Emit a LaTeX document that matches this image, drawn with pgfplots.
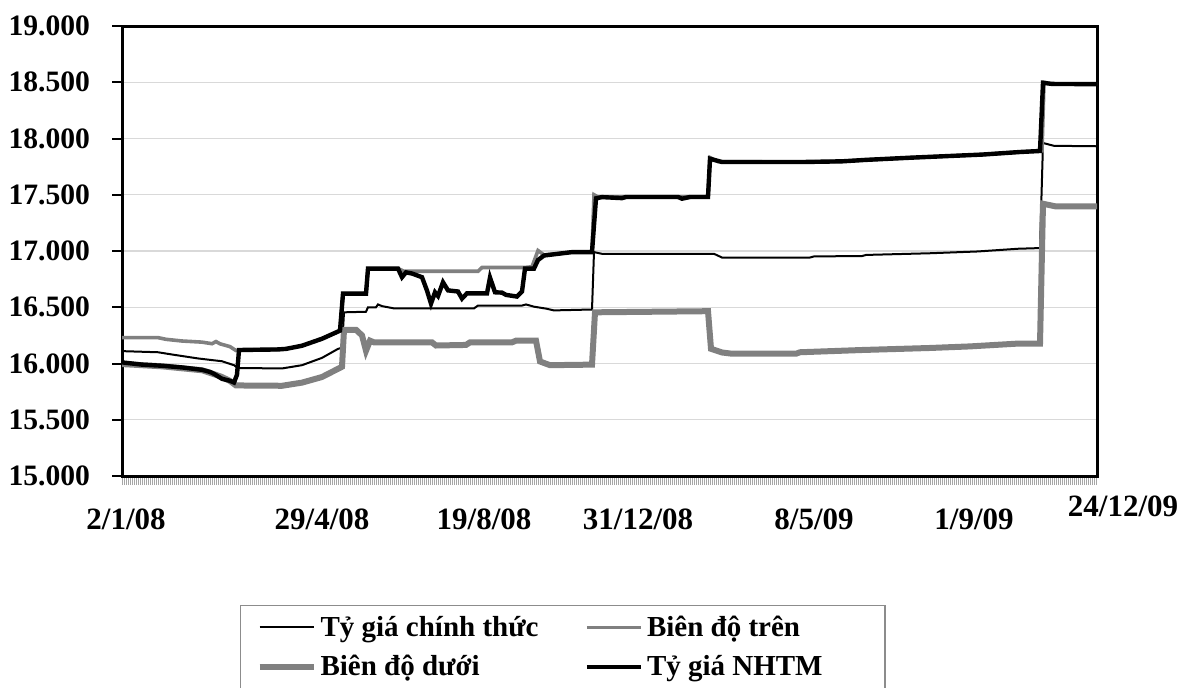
\documentclass[border=0pt]{standalone}
\usepackage{fontspec}
\setmainfont{Liberation Serif}
\usepackage{pgfplots}
\pgfplotsset{compat=1.18}
\usepackage{pgfplotstable}

% x = trading-day position (0 = 2/1/08, 487.5 = 24/12/09)
\pgfplotstableread{
x y
0 16110
18 16100
25 16080
38 16045
50 16020
56 15985
58 15960
80 15956
90 15985
100 16050
108 16130
110 16140
111 16455
122 16460
123 16500
127 16500
128 16525
130 16510
136 16490
176 16490
178 16515
200 16515
202 16525
206 16505
212 16488
216 16472
235 16480
236 16990
240 16975
296 16975
300 16942
344 16942
346 16952
370 16955
372 16965
404 16980
428 16996
448 17020
459 17026
460.5 17960
466 17935
487.5 17931
}\ct

\pgfplotstableread{
x y
0 16230
18 16230
22 16215
30 16200
40 16190
45 16176
47 16195
49 16175
54 16150
57 16115
58.5 16120
78 16125
82 16130
90 16158
100 16220
109 16292
110.5 16621
122 16621
123 16844
138 16844
141 16820
178 16820
180 16853
201 16853
205 16860
208 17004
211 16965
225 16990
235 16990
236 17500
238 17480
293 17480
294 17830
298 17795
340 17791
360 17797
372 17810
395 17830
430 17857
449 17880
460 17890
461 18500
465 18485
487.5 18485
}\tren

\pgfplotstableread{
x y
0 15995
20 15975
40 15940
46 15905
50 15880
54 15845
57 15805
80 15802
90 15830
100 15880
110 15971
111 16300
117 16300
120 16250
122 16114
124 16203
126 16188
155 16188
157 16160
172 16165
174 16188
195 16188
197 16203
207 16203
209 16018
214 15985
235 15990
236.5 16455
293 16465
294.5 16131
300 16098
305 16087
337 16087
339 16100
370 16120
404 16138
424 16152
447 16176
459 16176
460.5 17420
467 17396
487.5 17396
}\duoi

\pgfplotstableread{
x y
0 16010
10 15990
20 15980
30 15965
40 15944
44 15925
46 15908
50 15864
54 15846
56 15831
57.5 15900
58.5 16120
78 16125
82 16130
90 16158
100 16220
109 16292
110.5 16621
122 16621
123 16844
138 16844
140 16767
142 16810
145 16800
150 16767
152.5 16648
154.5 16532
156.5 16633
158 16600
160.5 16722
163 16650
168 16640
170 16577
172.5 16624
182.5 16624
184 16764
186.5 16633
190 16630
192 16610
197.5 16595
200 16640
201.5 16844
206 16844
208 16920
211 16960
225 16990
235 16990
237 17468
240 17479
250 17470
252 17480
278 17480
280 17465
284 17480
293 17480
294 17820
300 17791
340 17791
360 17797
372 17810
395 17830
430 17857
449 17880
459 17889
460.5 18495
465 18485
487.5 18483
}\nhtm

\begin{document}
\begin{tikzpicture}
\useasboundingbox (0pt,0pt) rectangle (592pt,343.5pt);
\begin{axis}[
  at={(61pt,105.5pt)}, anchor=south west,
  scale only axis, width=487.5pt, height=225pt,
  xmin=0, xmax=487.5, ymin=15000, ymax=19000,
  scaled y ticks=false,
  axis line style={line width=1.5pt},
  tick align=outside,
  major tick length=5pt,
  minor tick length=4.5pt,
  ytick={15000,15500,...,19000},
  yticklabels={15.000,15.500,16.000,16.500,17.000,17.500,18.000,18.500,19.000},
  ytick pos=left,
  ytick style={black, line width=1pt},
  yticklabel style={font=\fontsize{14.8}{17}\selectfont\bfseries, anchor=east, xshift=-7.5pt},
  ymajorgrids,
  y grid style={black!15, line width=0.6pt},
  xtick={2,100,181,258,346,426,487.5},
  xticklabels={2/1/08,29/4/08,19/8/08,31/12/08,8/5/09,1/9/09,{\raisebox{7pt}[10.7pt][0.2pt]{\makebox[0pt]{\hspace*{26pt}24/12/09}}}},
  xtick pos=lower,
  major x tick style={draw=none},
  minor xtick={0,1,...,487},
  minor x tick style={black!35, line width=0.35pt},
  xticklabel style={font=\fontsize{15.5}{18}\selectfont\bfseries, anchor=north, yshift=-8pt},
  legend columns=2,
  legend cell align=left,
  legend image code/.code={\draw[#1] (0pt,0pt) -- (27pt,0pt);},
  legend style={at={(0.121,-0.287)}, anchor=north west,
    draw=black!45, line width=0.6pt,
    font=\fontsize{14.5}{17}\selectfont\bfseries,
    inner xsep=8pt, inner ysep=3pt, row sep=4pt,
    nodes={inner xsep=2pt, inner ysep=2pt},
    /tikz/every even column/.append style={column sep=21pt}},
]
\addplot[black, line width=1pt] table[x=x,y=y] {\ct};
\addlegendentry{Tỷ giá chính thức}
\addplot[black!50, line width=1.8pt] table[x=x,y=y] {\tren};
\addlegendentry{\makebox[109pt][l]{Biên độ trên}}
\addplot[black!50, line width=3pt] table[x=x,y=y] {\duoi};
\addlegendentry{Biên độ dưới}
\addplot[black, line width=2.2pt] table[x=x,y=y] {\nhtm};
\addlegendentry{Tỷ giá NHTM}
\end{axis}
\end{tikzpicture}
\end{document}
